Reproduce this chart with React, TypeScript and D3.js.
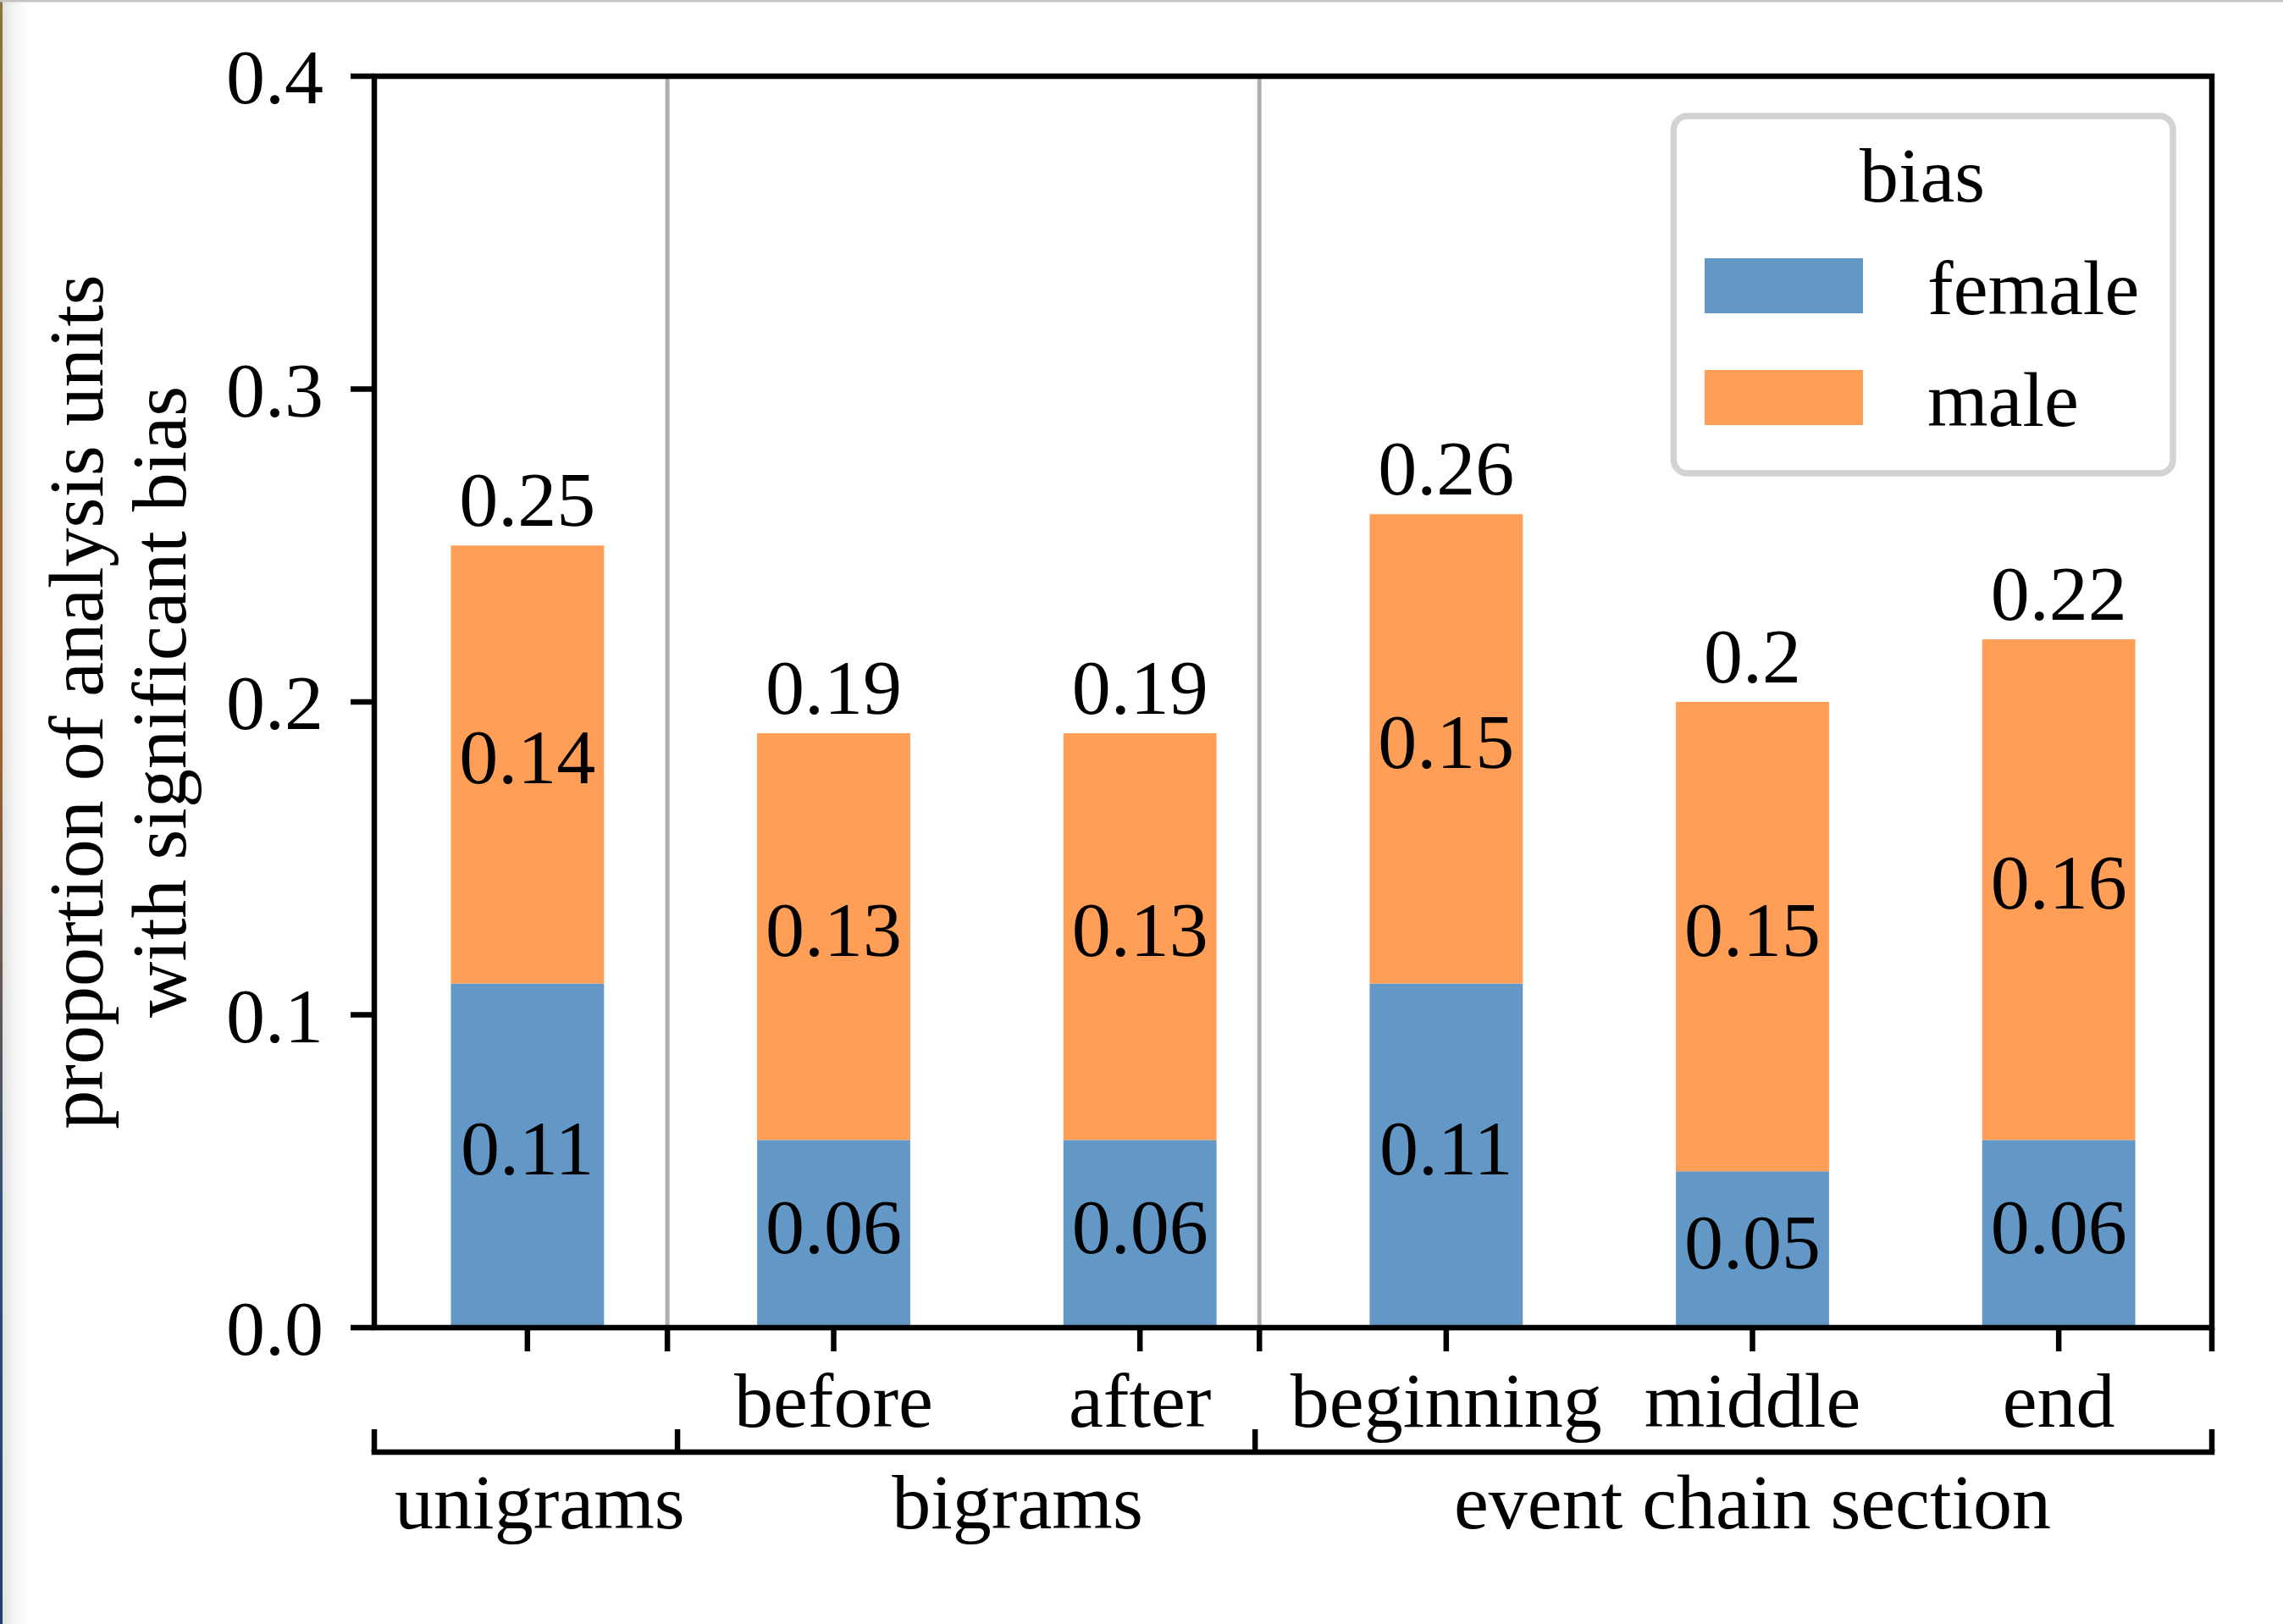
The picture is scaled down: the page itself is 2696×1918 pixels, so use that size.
import { useEffect, useRef } from 'react';
import * as React from 'react';
import * as d3 from 'd3';

// data
const categories = ['', 'before', 'after', 'beginning', 'middle', 'end'];
const female = [0.11, 0.06, 0.06, 0.11, 0.05, 0.06];
const male = [0.14, 0.13, 0.13, 0.15, 0.15, 0.16];
const yTicks = [0.0, 0.1, 0.2, 0.3, 0.4];
const groups = ['unigrams', 'bigrams', 'event chain section'];
const seriesNames = ['female', 'male'];
const legendTitle = 'bias';
const yLabelLines = ['proportion of analysis units', 'with significant bias'];

const App: React.FC = () => {
    const ref = useRef<SVGSVGElement>(null);

    useEffect(() => {
        const W = 2696, H = 1918;
        const left = 442, right = 2612, top = 90, bottom = 1568;
        const fs = 92;
        const lw = 6.5;
        const font = '"Liberation Serif", "Times New Roman", serif';
        const colors = ['#6398c6', '#ff9e57'];

        // x positions (in category units) of the separators and group labels
        const dividers = [0.457, 2.39];
        const bracketTicks = [-0.5, 0.49, 2.376, 5.5];
        const groupLabelAt = [0.04, 1.6, 4.0];

        const svg = d3.select(ref.current!);
        svg.selectAll('*').remove();
        svg.attr('width', W).attr('height', H);

        svg.append('rect').attr('width', W).attr('height', H).attr('fill', '#fff');

        // faint screenshot edge on the left / top
        const defs = svg.append('defs');
        const g1 = defs.append('linearGradient').attr('id', 'edgeShade');
        g1.append('stop').attr('offset', '0').attr('stop-color', '#dcdcdc');
        g1.append('stop').attr('offset', '1').attr('stop-color', '#ffffff').attr('stop-opacity', 0);
        const g2 = defs.append('linearGradient').attr('id', 'edgeLine')
            .attr('x1', 0).attr('y1', 0).attr('x2', 0).attr('y2', 1);
        g2.append('stop').attr('offset', '0').attr('stop-color', '#8a7437');
        g2.append('stop').attr('offset', '0.45').attr('stop-color', '#a0622a');
        g2.append('stop').attr('offset', '0.75').attr('stop-color', '#2d4f7a');
        g2.append('stop').attr('offset', '1').attr('stop-color', '#1f3f6b');
        svg.append('rect').attr('x', 0).attr('y', 0).attr('width', 40).attr('height', H).attr('fill', 'url(#edgeShade)');
        svg.append('rect').attr('x', 0).attr('y', 0).attr('width', 3).attr('height', H).attr('fill', 'url(#edgeLine)');
        svg.append('rect').attr('x', 0).attr('y', 0).attr('width', W).attr('height', 2.5).attr('fill', '#c4c4c4');

        const x = d3.scaleLinear().domain([-0.5, categories.length - 0.5]).range([left, right]);
        const y = d3.scaleLinear().domain([0, 0.4]).range([bottom, top]);
        const fmt = (v: number) => String(Math.round(v * 100) / 100);
        const half = 0.25;

        const data = categories.map((c, i) => ({ c, i, f: female[i], m: male[i] }));

        // group dividers
        svg.selectAll('line.div').data(dividers).enter().append('line')
            .attr('x1', d => x(d)).attr('x2', d => x(d))
            .attr('y1', y(0.4)).attr('y2', y(0))
            .attr('stroke', '#b0b0b0').attr('stroke-width', 5);

        // stacked bars
        const bars = svg.append('g');
        bars.selectAll('rect.f').data(data).enter().append('rect')
            .attr('x', d => x(d.i - half)).attr('width', d => x(d.i + half) - x(d.i - half))
            .attr('y', d => y(d.f)).attr('height', d => y(0) - y(d.f))
            .attr('fill', colors[0]);
        bars.selectAll('rect.m').data(data).enter().append('rect')
            .attr('x', d => x(d.i - half)).attr('width', d => x(d.i + half) - x(d.i - half))
            .attr('y', d => y(d.f + d.m)).attr('height', d => y(d.f) - y(d.f + d.m))
            .attr('fill', colors[1]);

        const txt = (g: d3.Selection<any, any, any, any>) =>
            g.attr('font-family', font).attr('font-size', fs).attr('fill', '#000');

        // segment labels
        data.forEach(d => {
            txt(svg.append('text')).attr('text-anchor', 'middle')
                .attr('x', x(d.i)).attr('y', y(d.f / 2) + 22.5).text(fmt(d.f));
            txt(svg.append('text')).attr('text-anchor', 'middle')
                .attr('x', x(d.i)).attr('y', y(d.f + d.m / 2) + 22.5).text(fmt(d.m));
            txt(svg.append('text')).attr('text-anchor', 'middle')
                .attr('x', x(d.i)).attr('y', y(d.f + d.m) - 23).text(fmt(d.f + d.m));
        });

        // frame
        svg.append('rect').attr('x', left).attr('y', top)
            .attr('width', right - left).attr('height', bottom - top)
            .attr('fill', 'none').attr('stroke', '#000').attr('stroke-width', lw);

        // y axis
        yTicks.forEach(t => {
            svg.append('line').attr('x1', left - 28).attr('x2', left)
                .attr('y1', y(t)).attr('y2', y(t)).attr('stroke', '#000').attr('stroke-width', lw);
            txt(svg.append('text')).attr('text-anchor', 'end')
                .attr('x', 382).attr('y', y(t) + 32).text(d3.format('.1f')(t));
        });

        yLabelLines.forEach((s, k) => {
            txt(svg.append('text')).attr('text-anchor', 'middle')
                .attr('transform', `translate(${121 + k * 98},${(top + bottom) / 2}) rotate(-90)`)
                .text(s);
        });

        // x axis ticks: categories, dividers and right end
        const xt = [...categories.map((_c, i) => i), ...dividers, categories.length - 0.5];
        xt.forEach(t => {
            svg.append('line').attr('x1', x(t)).attr('x2', x(t))
                .attr('y1', bottom).attr('y2', bottom + 28)
                .attr('stroke', '#000').attr('stroke-width', lw);
        });
        categories.forEach((c, i) => {
            txt(svg.append('text')).attr('text-anchor', 'middle')
                .attr('x', x(i)).attr('y', 1685).text(c);
        });

        // group bracket
        const by = 1715;
        svg.append('line').attr('x1', x(bracketTicks[0]) - lw / 2).attr('x2', x(bracketTicks[3]) + lw / 2)
            .attr('y1', by).attr('y2', by).attr('stroke', '#000').attr('stroke-width', lw);
        bracketTicks.forEach(t => {
            svg.append('line').attr('x1', x(t)).attr('x2', x(t))
                .attr('y1', by - 27).attr('y2', by)
                .attr('stroke', '#000').attr('stroke-width', lw);
        });
        groups.forEach((gName, k) => {
            txt(svg.append('text')).attr('text-anchor', 'middle')
                .attr('x', x(groupLabelAt[k])).attr('y', 1805).text(gName);
        });

        // legend
        const lg = svg.append('g');
        lg.append('rect').attr('x', 1976.5).attr('y', 137).attr('width', 589.5).attr('height', 422)
            .attr('rx', 16).attr('fill', '#fff').attr('stroke', '#d3d3d3').attr('stroke-width', 7.5);
        txt(lg.append('text')).attr('text-anchor', 'middle')
            .attr('x', 2270).attr('y', 238).text(legendTitle);
        seriesNames.forEach((n, k) => {
            lg.append('rect').attr('x', 2013).attr('y', 305 + k * 132)
                .attr('width', 187).attr('height', 65).attr('fill', colors[k]);
            txt(lg.append('text')).attr('x', 2276).attr('y', 371 + k * 132).text(n);
        });
    }, []);

    return <svg ref={ref} style={{ position: 'absolute', left: 0, top: 0, display: 'block' }} />;
};

export default App;
